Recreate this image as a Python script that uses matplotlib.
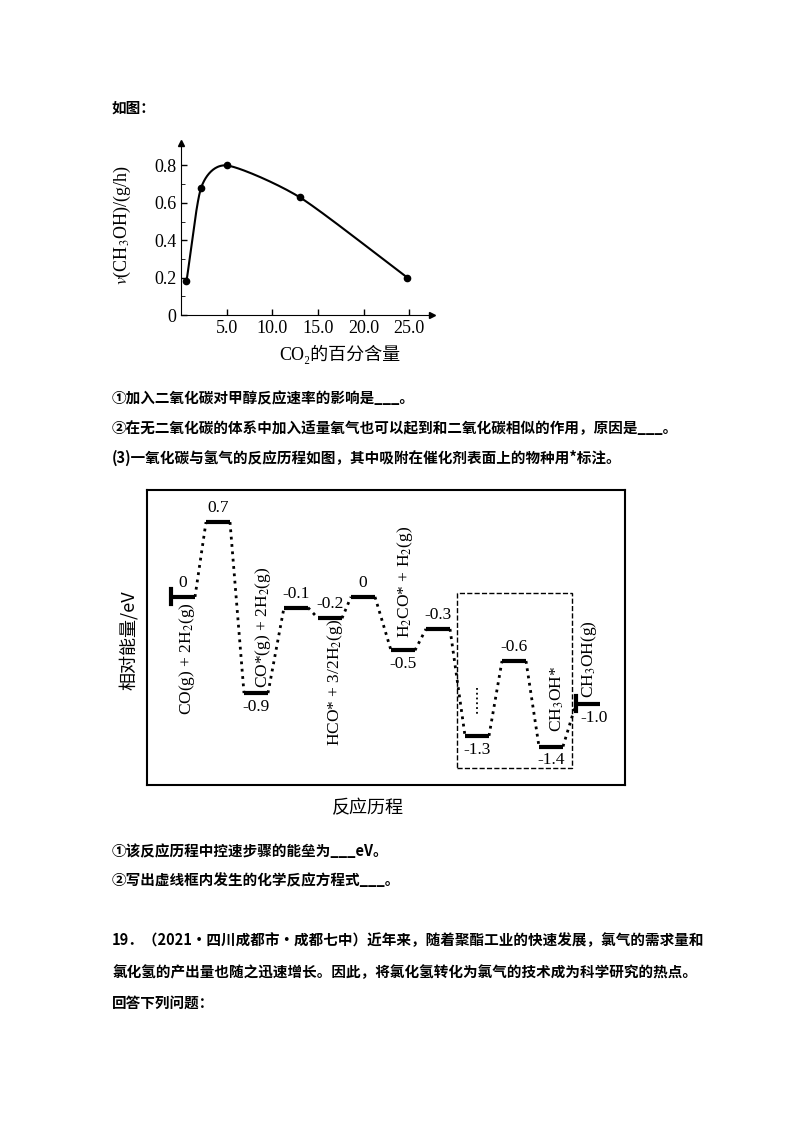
import numpy as np
import matplotlib
matplotlib.use("Agg")
import matplotlib.pyplot as plt
from matplotlib.patches import Rectangle

plt.rcParams['font.family'] = ['Liberation Serif', 'Noto Sans CJK SC', 'DejaVu Sans']
plt.rcParams['mathtext.fontset'] = 'stix'

# chart 1 data
co2_pct = [0.6, 2.2, 5.0, 13.0, 24.8]
rate = [0.18, 0.68, 0.80, 0.63, 0.20]
x_ticks = [5.0, 10.0, 15.0, 20.0, 25.0]
y_ticks = [0, 0.2, 0.4, 0.6, 0.8]

# chart 2 data
level_x = [183, 218, 256, 296, 330, 363, 403, 438, 477, 514, 551, 588]
level_e = [0, 0.7, -0.9, -0.1, -0.2, 0, -0.5, -0.3, -1.3, -0.6, -1.4, -1.0]
level_txt = ['0', '0.7', '-0.9', '-0.1', '-0.2', '0', '-0.5', '-0.3', '-1.3', '-0.6', '-1.4', '-1.0']
level_above = [True, True, False, True, True, True, False, True, False, True, False, False]

W, H = 800, 1132
fig = plt.figure(figsize=(W / 100, H / 100), dpi=100)


def fx(px):
    return px / W


def fy(py):
    return 1 - py / H


def txt(px, py, s, **kw):
    kw.setdefault('fontsize', 10.5)
    kw.setdefault('family', ['Noto Sans CJK SC', 'DejaVu Sans'])
    kw.setdefault('weight', 'bold')
    fig.text(fx(px), fy(py), s, va='center', **kw)


txt(112, 108, "如图：")
txt(112, 398, "①加入二氧化碳对甲醇反应速率的影响是___。")
txt(112, 428, "②在无二氧化碳的体系中加入适量氧气也可以起到和二氧化碳相似的作用，原因是___。")
txt(112, 458, "(3)一氧化碳与氢气的反应历程如图，其中吸附在催化剂表面上的物种用*标注。")
txt(112, 851, "①该反应历程中控速步骤的能垒为___eV。")
txt(112, 880, "②写出虚线框内发生的化学反应方程式___。")
txt(112, 940, "19．（2021·四川成都市·成都七中）近年来，随着聚酯工业的快速发展，氯气的需求量和")
txt(112, 972, "氯化氢的产出量也随之迅速增长。因此，将氯化氢转化为氯气的技术成为科学研究的热点。")
txt(112, 1003, "回答下列问题：")

# ---- chart 1 ----
x0, x1, y0, y1 = 181, 432, 143, 315
ax1 = fig.add_axes([fx(x0), fy(y1), (x1 - x0) / W, (y1 - y0) / H])
ax1.set_xlim(0, 27.5)
ax1.set_ylim(0, 0.92)
for s in ['top', 'right']:
    ax1.spines[s].set_visible(False)
ax1.plot(1, 0, ">k", transform=ax1.transAxes, clip_on=False, ms=5)
ax1.plot(0, 1, "^k", transform=ax1.transAxes, clip_on=False, ms=5)


def catmull(xs, ys, n=40, tension=0.7):
    P = np.column_stack([xs, ys])
    P = np.vstack([2 * P[0] - P[1], P, 2 * P[-1] - P[-2]])
    out = []
    t = np.linspace(0, 1, n)[:, None]
    h00 = 2 * t ** 3 - 3 * t ** 2 + 1
    h10 = t ** 3 - 2 * t ** 2 + t
    h01 = -2 * t ** 3 + 3 * t ** 2
    h11 = t ** 3 - t ** 2
    for i in range(1, len(P) - 2):
        m1 = tension * (P[i + 1] - P[i - 1]) / 2
        m2 = tension * (P[i + 2] - P[i]) / 2
        out.append(h00 * P[i] + h10 * m1 + h01 * P[i + 1] + h11 * m2)
    return np.vstack(out)


c = catmull(np.array(co2_pct) / 10, np.array(rate))
ax1.plot(c[:, 0] * 10, c[:, 1], 'k-', lw=1.5)
ax1.plot(co2_pct, rate, 'ko', ms=4.5)
ax1.set_xticks(x_ticks, [f"{v:.1f}" for v in x_ticks])
ax1.set_yticks(y_ticks, ['0', '0.2', '0.4', '0.6', '0.8'])
ax1.set_yticks([0.1, 0.3, 0.5, 0.7], minor=True)
ax1.tick_params(direction='in', labelsize=13, length=4, width=1)
ax1.tick_params(which='minor', direction='in', length=3)
txt(122, 225, "$v$(CH$_3$OH)/(g/h)", rotation=90, ha='center',
    family=['Liberation Serif'], weight='normal', fontsize=13)
txt(340, 354, "CO₂的百分含量", ha='center',
    family=['Liberation Serif', 'Noto Sans CJK SC', 'DejaVu Serif'], weight='normal', fontsize=13)

# ---- chart 2 ----
bx0, bx1, by0, by1 = 147, 625, 490, 785
ax2 = fig.add_axes([fx(bx0), fy(by1), (bx1 - bx0) / W, (by1 - by0) / H])
ax2.set_xlim(bx0, bx1)
ax2.set_ylim(-1.76, 1.0)
ax2.set_xticks([])
ax2.set_yticks([])
for s in ax2.spines.values():
    s.set_linewidth(1.5)
hw = 12
for i in range(len(level_x)):
    ax2.plot([level_x[i] - hw, level_x[i] + hw], [level_e[i]] * 2, 'k-', lw=3, solid_capstyle='butt')
    if i < len(level_x) - 1:
        ax2.plot([level_x[i] + hw, level_x[i + 1] - hw], [level_e[i], level_e[i + 1]],
                 'k:', lw=2)
    dy = 0.13 if level_above[i] else -0.13
    lx = level_x[i] + (6 if i == len(level_x) - 1 else 0)
    ax2.text(lx, level_e[i] + dy, level_txt[i], ha='center', va='center', fontsize=12.5)
ax2.plot([level_x[0] - hw] * 2, [-0.07, 0.07], 'k-', lw=3)
ax2.plot([level_x[-1] - hw] * 2, [-0.93, -1.07], 'k-', lw=3)
ax2.add_patch(Rectangle((457, -1.60), 115, 1.64, fill=False, ls='--', lw=1))
ax2.plot([477, 477], [-0.85, -1.1], 'k:', lw=1.3)

rot_labels = [
    (187, -0.58, "CO(g) + 2H$_2$(g)"),
    (263, -0.28, "CO*(g) + 2H$_2$(g)"),
    (335, -0.80, "HCO* + 3/2H$_2$(g)"),
    (405, 0.14, "H$_2$CO* + H$_2$(g)"),
    (557, -0.95, "CH$_3$OH*"),
    (589, -0.58, "CH$_3$OH(g)"),
]
for x, y, s in rot_labels:
    ax2.text(x, y, s, rotation=90, ha='center', va='center', fontsize=12.5)
txt(128, 640, "相对能量/eV", rotation=90, ha='center',
    family=['Noto Sans CJK SC'], weight='normal', fontsize=13)
txt(368, 808, "反应历程", ha='center', family=['Noto Sans CJK SC'], weight='normal', fontsize=13)

fig.savefig("out.png", dpi=100)
